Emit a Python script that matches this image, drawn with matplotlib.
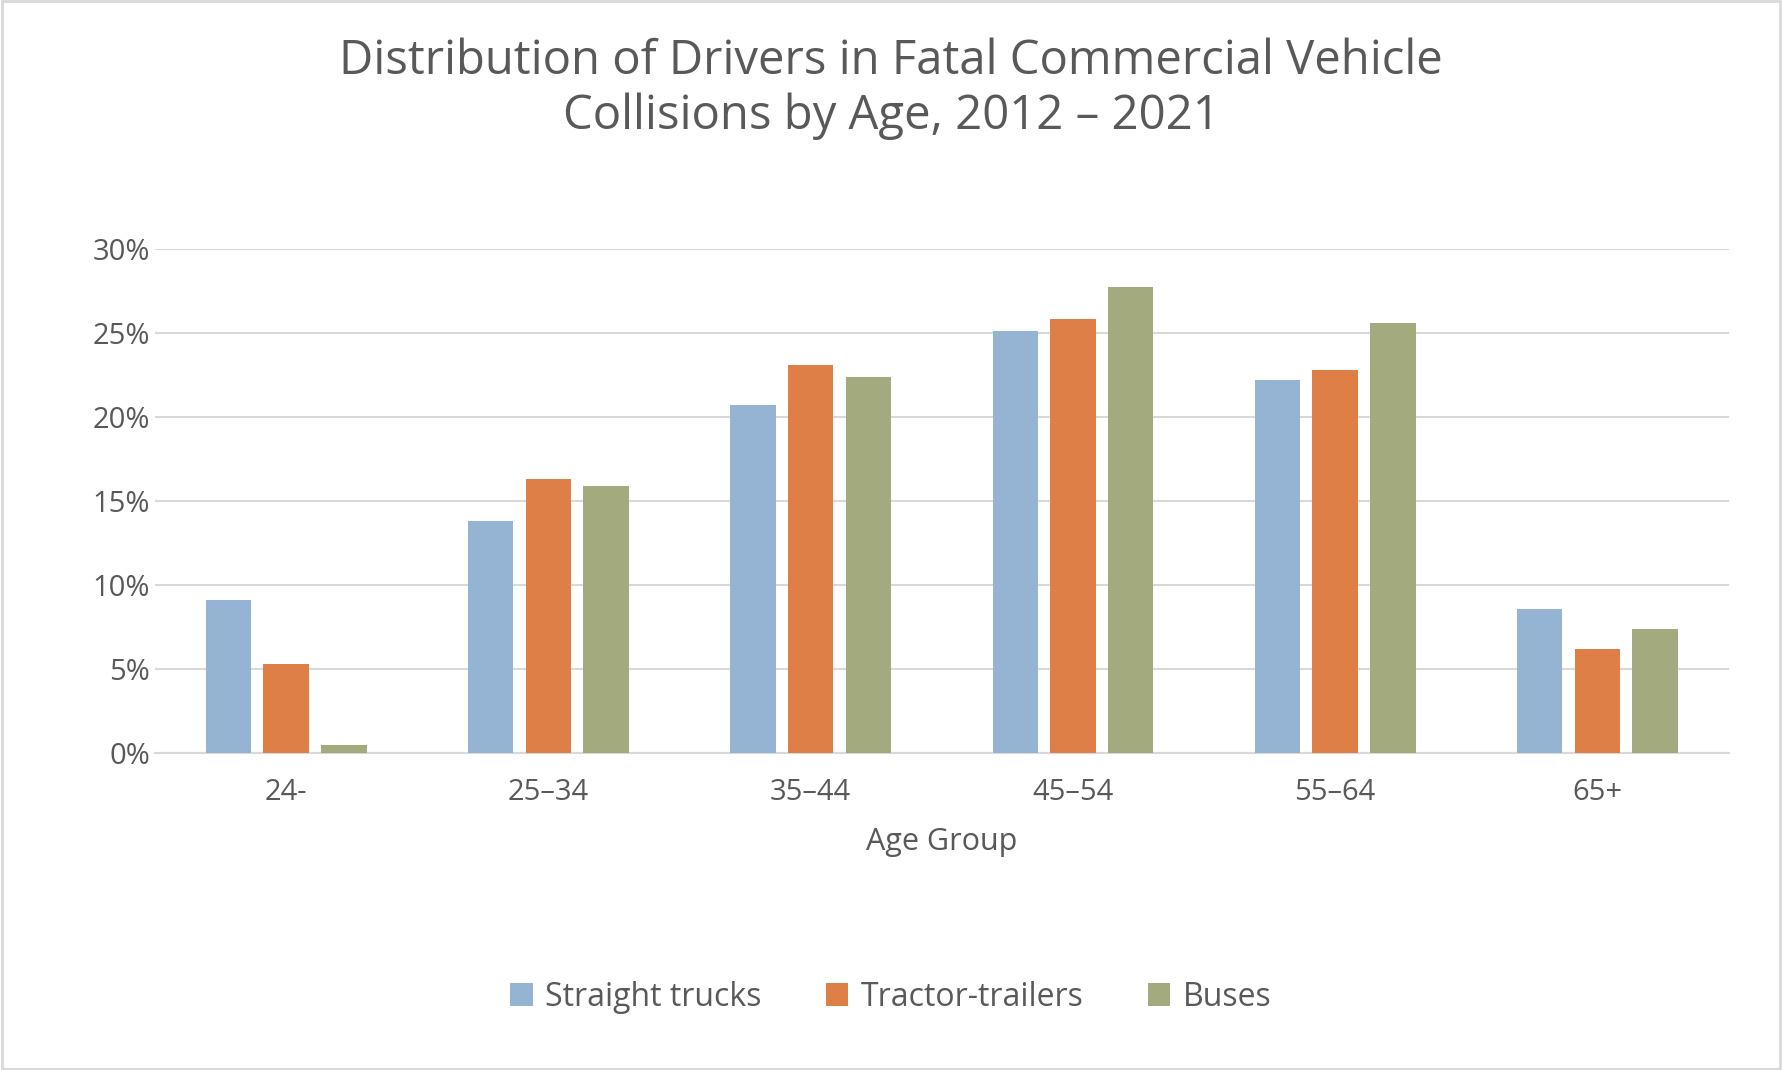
import matplotlib.pyplot as plt
import matplotlib.patches as mpatches
import numpy as np

plt.rcParams['font.family'] = 'Open Sans'

groups = ['24-', '25–34', '35–44', '45–54', '55–64', '65+']
straight = [9.1, 13.8, 20.7, 25.1, 22.2, 8.6]
tractor = [5.3, 16.3, 23.1, 25.8, 22.8, 6.2]
buses = [0.5, 15.9, 22.4, 27.7, 25.6, 7.4]
series = ['Straight trucks', 'Tractor-trailers', 'Buses']
colors = ['#95b3d3', '#dd7f46', '#a3ab7e']

fig = plt.figure(figsize=(17.82, 10.70), dpi=100)
ax = fig.add_axes([0.087, 0.296, 0.883, 0.4715])

x = np.arange(len(groups))
w = 0.173
step = 0.22
for i, (vals, c) in enumerate(zip([straight, tractor, buses], colors)):
    ax.bar(x + (i - 1) * step, vals, w, color=c, label=series[i], zorder=3)

ax.set_ylim(0, 30)
ax.set_xlim(-0.5, len(groups) - 0.5)
ax.set_yticks(range(0, 31, 5))
ax.set_yticklabels([f'{v}%' for v in range(0, 31, 5)])
ax.set_xticks(x)
ax.set_xticklabels(groups)
ax.grid(axis='y', color='#d9d9d9', linewidth=1.5, zorder=0)
for s in ['top', 'right', 'left']:
    ax.spines[s].set_visible(False)
ax.spines['bottom'].set_color('#d9d9d9')
ax.spines['bottom'].set_linewidth(1.5)
ax.tick_params(length=0, labelsize=21, colors='#595959')
ax.tick_params(axis='x', pad=18)
ax.set_xlabel('Age Group', fontsize=22, color='#595959', labelpad=14)

fig.suptitle('Distribution of Drivers in Fatal Commercial Vehicle\nCollisions by Age, 2012 – 2021',
             fontsize=34, color='#595959', y=0.965, linespacing=1.2)

fig.legend(loc='center', bbox_to_anchor=(0.5, 0.068), ncol=3, frameon=False,
           fontsize=23, labelcolor='#595959', handlelength=0.7, handleheight=0.7,
           columnspacing=2.0, handletextpad=0.4)

fig.add_artist(mpatches.Rectangle((0.001, 0.001), 0.998, 0.998, transform=fig.transFigure,
                                  fill=False, edgecolor='#d9d9d9', linewidth=2))

fig.savefig('out.png', dpi=100)
